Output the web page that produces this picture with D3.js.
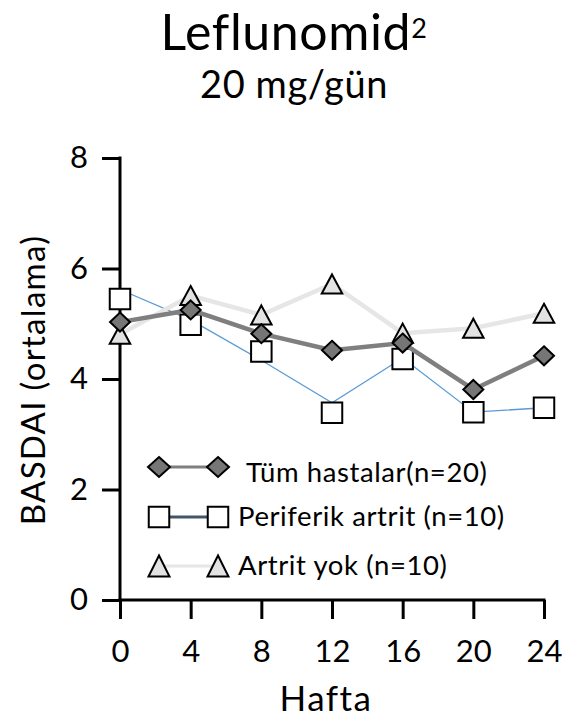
<!DOCTYPE html>
<html>
<head>
<meta charset="utf-8">
<script src="https://cdn.jsdelivr.net/npm/d3@7/dist/d3.min.js"></script>
<style>
  html, body { margin: 0; padding: 0; background: #fff; }
  svg { display: block; }
  text { font-family: Lato, "Noto Sans", sans-serif; fill: #000; }
</style>
</head>
<body>
<svg id="chart" width="562" height="721"></svg>
<script>
// ---- data ----
const weeks = [0, 4, 8, 12, 16, 20, 24];
const tumHastalar = [5.03, 5.25, 4.82, 4.52, 4.65, 3.81, 4.42];
const periferikMarkers = [5.45, 4.98, 4.50, 3.39, 4.36, 3.40, 3.48];
const periferikLine = [5.62, 5.07, 4.34, 3.57, 4.38, 3.40, 3.48];
const artritYok = [4.81, 5.51, 5.16, 5.72, 4.83, 4.92, 5.19];
const yTicks = [0, 2, 4, 6, 8];
const xTicks = [0, 4, 8, 12, 16, 20, 24];
const legendLabels = ["Tüm hastalar(n=20)", "Periferik artrit (n=10)", "Artrit yok (n=10)"];
const titleText = "Leflunomid";
const titleSup = "2";
const subtitleText = "20 mg/gün";
const xLabel = "Hafta";
const yLabel = "BASDAI (ortalama)";

const svg = d3.select("#chart");
const x = d3.scaleLinear().domain([0, 24]).range([120, 544]);
const y = d3.scaleLinear().domain([0, 8]).range([600, 158]);

// marker path generators (centered at 0,0)
function diamond(w, h) { return `M0,${-h/2}L${w/2},0L0,${h/2}L${-w/2},0Z`; }
function square(s) { return `M${-s/2},${-s/2}H${s/2}V${s/2}H${-s/2}Z`; }
function triangle(w, h) { return `M0,${-h/2}L${w/2},${h/2}L${-w/2},${h/2}Z`; }

// ---- title ----
const t = svg.append("text").attr("x", 294).attr("y", 50).attr("text-anchor", "middle")
  .style("font-size", "50px").style("letter-spacing", "0.6px");
t.append("tspan").text(titleText);
t.append("tspan").attr("dy", -12).style("font-size", "27px").text(titleSup);
svg.append("text").attr("x", 294).attr("y", 98).attr("text-anchor", "middle")
  .style("font-size", "38px").style("letter-spacing", "0.6px").text(subtitleText);

// ---- axes ----
const yAxis = d3.axisLeft(y).tickValues(yTicks).tickSize(18).tickSizeOuter(0).tickPadding(14);
const gy = svg.append("g").attr("transform", "translate(120,0)").call(yAxis);
const xAxis = d3.axisBottom(x).tickValues(xTicks).tickSize(19).tickSizeOuter(0).tickPadding(21);
const gx = svg.append("g").attr("transform", "translate(0,600)").call(xAxis);
[gx, gy].forEach(g => {
  g.selectAll("path.domain").attr("stroke", "#000").attr("stroke-width", 3);
  g.selectAll(".tick line").attr("stroke", "#000").attr("stroke-width", 3);
  g.selectAll(".tick text").style("font-size", "31px").style("font-family", "Lato, 'Noto Sans', sans-serif").attr("fill", "#000");
});
gx.select("path.domain").attr("d", `M${x(0) - 1.5},0H${x(24) + 1.5}`);
gy.select("path.domain").attr("d", `M0,${y(8) - 1.5}V${y(0) + 1.5}`);

svg.append("text").attr("x", 326).attr("y", 711).attr("text-anchor", "middle")
  .style("font-size", "35px").style("letter-spacing", "1.5px").text(xLabel);
svg.append("text").attr("transform", "translate(45,380) rotate(-90)").attr("text-anchor", "middle")
  .style("font-size", "33px").style("letter-spacing", "1.3px").text(yLabel);

// ---- series ----
const line = d3.line().x((d, i) => x(weeks[i])).y(d => y(d));

// Periferik artrit
svg.append("path").datum(periferikLine).attr("d", line)
  .attr("fill", "none").attr("stroke", "#5B9BD5").attr("stroke-width", 1.3);
svg.append("g").selectAll("path").data(periferikMarkers).join("path")
  .attr("d", square(20.5))
  .attr("transform", (d, i) => `translate(${x(weeks[i])},${y(d)})`)
  .attr("fill", "#fff").attr("stroke", "#000").attr("stroke-width", 2);

// Artrit yok
svg.append("path").datum(artritYok).attr("d", line)
  .attr("fill", "none").attr("stroke", "#e6e6e6").attr("stroke-width", 4.5);
svg.append("g").selectAll("path").data(artritYok).join("path")
  .attr("d", triangle(20.5, 19))
  .attr("transform", (d, i) => `translate(${x(weeks[i])},${y(d)})`)
  .attr("fill", "#e3e3e3").attr("stroke", "#000").attr("stroke-width", 2);

// Tüm hastalar
svg.append("path").datum(tumHastalar).attr("d", line)
  .attr("fill", "none").attr("stroke", "#7f7f7f").attr("stroke-width", 4.5);
svg.append("g").selectAll("path").data(tumHastalar).join("path")
  .attr("d", diamond(20, 19))
  .attr("transform", (d, i) => `translate(${x(weeks[i])},${y(d)})`)
  .attr("fill", "#767676").attr("stroke", "#000").attr("stroke-width", 2);

// ---- legend ----
const legendRows = [
  { label: legendLabels[0], cy: 467, ty: 481.5, tx: 246, lineColor: "#7f7f7f", shape: diamond(22, 20), fill: "#767676" },
  { label: legendLabels[1], cy: 517, ty: 526, tx: 238, lineColor: "#44546A", shape: square(20.5), fill: "#fff" },
  { label: legendLabels[2], cy: 566, ty: 575, tx: 238, lineColor: "#e6e6e6", shape: triangle(21, 21), fill: "#e3e3e3" }
];
const lg = svg.append("g");
legendRows.forEach(r => {
  lg.append("line").attr("x1", 159).attr("x2", 218).attr("y1", r.cy).attr("y2", r.cy)
    .attr("stroke", r.lineColor).attr("stroke-width", 3);
  [159, 218].forEach(cx => {
    lg.append("path").attr("d", r.shape).attr("transform", `translate(${cx},${r.cy})`)
      .attr("fill", r.fill).attr("stroke", "#000").attr("stroke-width", 2);
  });
  lg.append("text").attr("x", r.tx).attr("y", r.ty).style("font-size", "27.5px")
    .style("letter-spacing", "0.6px").text(r.label);
});
</script>
</body>
</html>
